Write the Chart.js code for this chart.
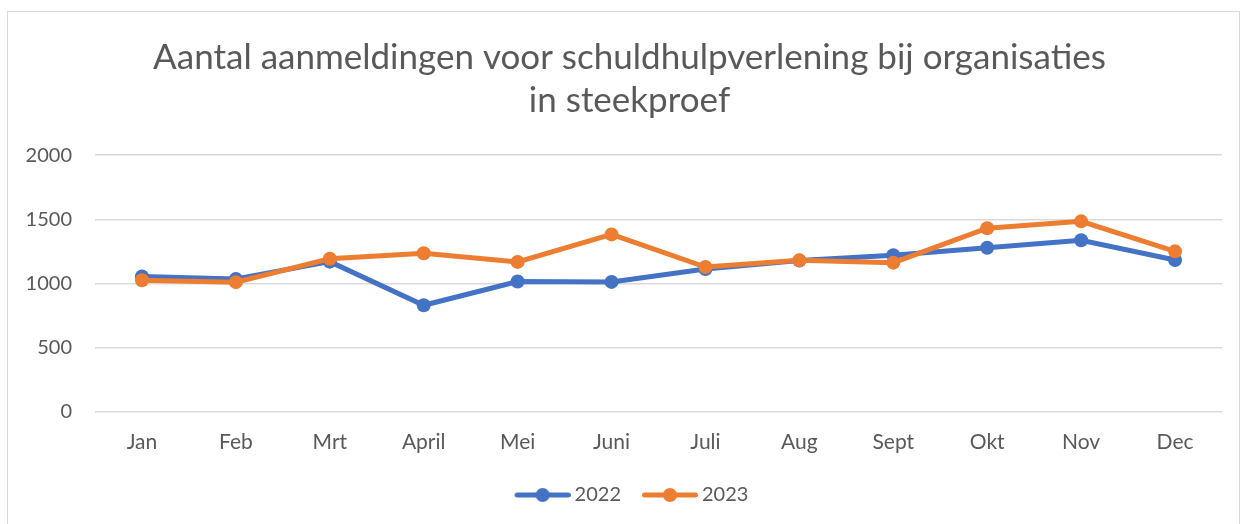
<!DOCTYPE html>
<html>
<head>
<meta charset="utf-8">
<script src="https://cdn.jsdelivr.net/npm/chart.js@4.4.0/dist/chart.umd.min.js"></script>
<style>
    html, body { margin: 0; padding: 0; background: #ffffff; }
    #frame { position: absolute; left: 7px; top: 11px; width: 1233px; height: 530px; border: 1px solid #d9d9d9; box-sizing: border-box; }
    #chart { position: absolute; left: 0; top: 0; }
</style>
</head>
<body>
<div id="frame"></div>
<canvas id="chart" width="1242" height="524"></canvas>
<script>
const months = ['Jan', 'Feb', 'Mrt', 'April', 'Mei', 'Juni', 'Juli', 'Aug', 'Sept', 'Okt', 'Nov', 'Dec'];
const values2022 = [1055, 1035, 1170, 830, 1015, 1012, 1112, 1178, 1220, 1278, 1336, 1183];
const values2023 = [1025, 1010, 1192, 1235, 1168, 1382, 1128, 1180, 1162, 1430, 1484, 1250];
const yMin = 0, yMax = 2000, yStep = 500;

const textColor = '#595959';
const fontFamily = 'Lato, "Open Sans", sans-serif';

// line + dot picture for the legend, like Excel draws it
// (extra blank space on the left so the text gap comes out right)
function legendIcon(color) {
    const c = document.createElement('canvas');
    c.width = 71;
    c.height = 16;
    const g = c.getContext('2d');
    g.strokeStyle = color;
    g.lineWidth = 5;
    g.lineCap = 'round';
    g.beginPath();
    g.moveTo(17.5, 8);
    g.lineTo(68.5, 8);
    g.stroke();
    g.fillStyle = color;
    g.beginPath();
    g.arc(43, 8, 7, 0, Math.PI * 2);
    g.fill();
    return c;
}

// Excel centres title and legend on the whole frame, not on the part
// right of the y labels, so nudge those two boxes after layout
const centerBoxes = {
    id: 'centerBoxes',
    afterLayout(chart) {
        if (chart.titleBlock) chart.titleBlock.left = 37;
        if (chart.legend) chart.legend.left = 32;
    }
};

const datasets = [
    { label: '2022', data: values2022, color: '#4472C4', order: 1 },
    { label: '2023', data: values2023, color: '#ED7D31', order: 0 }
];

new Chart(document.getElementById('chart'), {
    type: 'line',
    data: {
        labels: months,
        datasets: datasets.map(d => ({
            label: d.label,
            data: d.data,
            order: d.order,
            borderColor: d.color,
            backgroundColor: d.color,
            borderWidth: 5,
            pointRadius: 7,
            pointHoverRadius: 7,
            pointBackgroundColor: d.color,
            pointBorderWidth: 0,
            tension: 0
        }))
    },
    plugins: [centerBoxes],
    options: {
        responsive: false,
        animation: false,
        layout: { padding: { left: 0, right: 20, top: 36, bottom: 9 } },
        plugins: {
            title: {
                display: true,
                text: ['Aantal aanmeldingen voor schuldhulpverlening bij organisaties', 'in steekproef'],
                color: textColor,
                font: { family: fontFamily, size: 35, weight: 'normal', lineHeight: 1.23 },
                padding: { top: 0, bottom: 33 }
            },
            legend: {
                position: 'bottom',
                labels: {
                    color: textColor,
                    font: { family: fontFamily, size: 20 },
                    usePointStyle: true,
                    pointStyleWidth: 59,
                    padding: 12,
                    generateLabels: chart => chart.data.datasets.map((ds, i) => ({
                        text: ds.label,
                        fillStyle: ds.borderColor,
                        strokeStyle: ds.borderColor,
                        lineWidth: 0,
                        pointStyle: legendIcon(ds.borderColor),
                        fontColor: textColor,
                        hidden: false,
                        datasetIndex: i
                    }))
                }
            },
            tooltip: { enabled: false }
        },
        scales: {
            x: {
                offset: true,
                grid: { display: false, drawTicks: false },
                border: { display: false },
                ticks: { color: textColor, font: { family: fontFamily, size: 21 }, padding: 18 }
            },
            y: {
                min: yMin,
                max: yMax,
                grid: { color: '#d9d9d9', lineWidth: 1.5, drawTicks: false },
                border: { display: false },
                ticks: {
                    stepSize: yStep,
                    color: textColor,
                    font: { family: fontFamily, size: 20 },
                    padding: 23,
                    callback: v => String(v)
                },
                afterFit: scale => { scale.width = 95; }
            }
        }
    }
});
</script>
</body>
</html>
